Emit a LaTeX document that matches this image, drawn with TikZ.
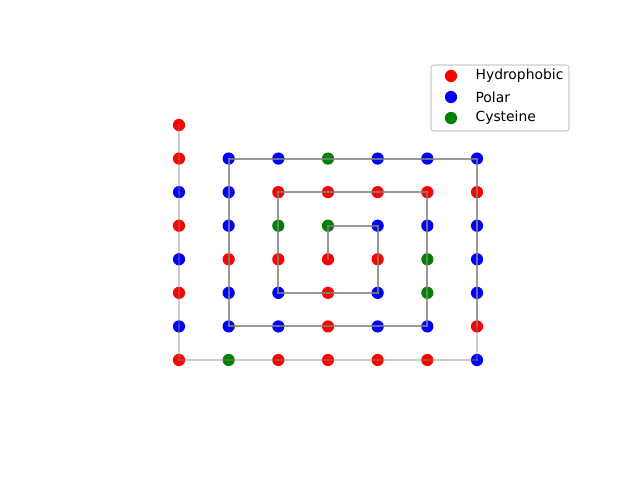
\documentclass[tikz,border=0pt]{standalone}
\usepackage{fontspec}
\setmainfont{DejaVu Sans}
\usetikzlibrary{positioning}
\definecolor{colHydro}{RGB}{255,0,0}
\definecolor{colPolar}{RGB}{0,0,255}
\definecolor{colCys}{RGB}{0,128,0}
\definecolor{colEdge}{RGB}{128,128,128}
\definecolor{colFrame}{RGB}{204,204,204}
\tikzset{
  res/.style={
    circle, inner sep=0pt, minimum size=8.8pt
  },
  H/.style={res, fill=colHydro},
  P/.style={res, fill=colPolar},
  C/.style={res, fill=colCys},
  edgeLight/.style={
    draw=colEdge, line width=1.5pt, opacity=0.4, line cap=rect
  },
  edgeDark/.style={
    draw=colEdge, line width=1.5pt, opacity=0.8, line cap=rect
  },
  legtext/.style={
    font=\fontsize{10}{12}\selectfont, anchor=west, inner sep=0pt
  }
}

\begin{document}
\begin{tikzpicture}[x=0.72pt, y=-0.72pt]

  \useasboundingbox (0,0) rectangle (640,480);

  % residues along the chain: index / column / row / type
  \foreach \i/\c/\r/\t in {
    1/0/0/H, 2/0/1/H, 3/0/2/P, 4/0/3/H, 5/0/4/P, 6/0/5/H, 7/0/6/P, 8/0/7/H,
    9/1/7/C, 10/2/7/H, 11/3/7/H, 12/4/7/H, 13/5/7/H, 14/6/7/P,
    15/6/6/H, 16/6/5/P, 17/6/4/P, 18/6/3/P, 19/6/2/H, 20/6/1/P,
    21/5/1/P, 22/4/1/P, 23/3/1/C, 24/2/1/P, 25/1/1/P,
    26/1/2/P, 27/1/3/P, 28/1/4/H, 29/1/5/P, 30/1/6/P,
    31/2/6/P, 32/3/6/H, 33/4/6/P, 34/5/6/P,
    35/5/5/C, 36/5/4/C, 37/5/3/P, 38/5/2/H,
    39/4/2/H, 40/3/2/H, 41/2/2/H,
    42/2/3/C, 43/2/4/H, 44/2/5/P,
    45/3/5/H, 46/4/5/P,
    47/4/4/H, 48/4/3/P,
    49/3/3/C, 50/3/4/H}
    \node[\t] (r\i) at ({179+49.67*\c}, {125+33.57*\r}) {};

  % backbone bonds
  \foreach \i [evaluate=\i as \j using int(\i+1)] in {1,...,14}
    \draw[edgeLight] (r\i.center) -- (r\j.center);
  \foreach \i [evaluate=\i as \j using int(\i+1)] in {15,...,49}
    \draw[edgeDark] (r\i.center) -- (r\j.center);

  % legend
  \draw[colFrame, fill=white, line width=0.8pt, rounded corners=2pt]
    (431,65) rectangle (569,131);
  \node[H] (legH) at (451,76) {};
  \node[P] (legP) at (451,97) {};
  \node[C] (legC) at (451,118) {};
  \node[legtext, right=12.9pt of legH] (txtH) {Hydrophobic};
  \node[legtext, right=12.9pt of legP] (txtP) {Polar};
  \node[legtext, right=12.9pt of legC] (txtC) {Cysteine};

\end{tikzpicture}
\end{document}
